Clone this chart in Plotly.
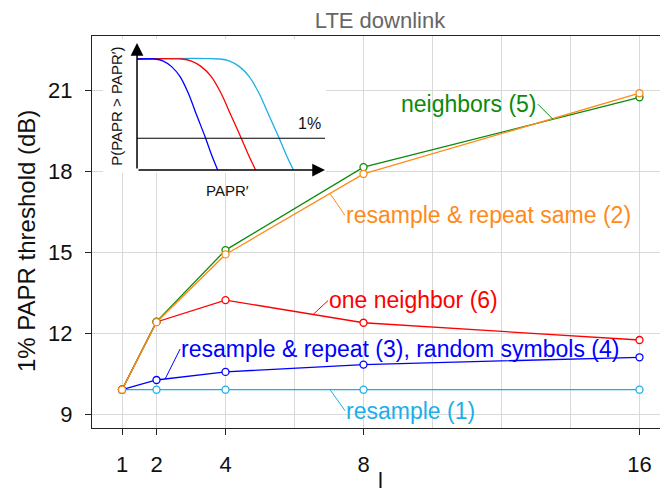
import numpy as np
import plotly.graph_objects as go

# ---------------- data ----------------
l_vals = [1, 2, 4, 8, 16]
resample_1 = [9.9, 9.9, 9.9, 9.9, 9.9]
resample_repeat_same_2 = [9.9, 12.4, 14.91, 17.89, 20.88]
resample_repeat_3_random_4 = [9.9, 10.26, 10.56, 10.83, 11.1]
neighbors_5 = [9.9, 12.42, 15.07, 18.14, 20.73]
one_neighbor_6 = [9.9, 12.41, 13.22, 12.38, 11.74]

x_ticks = [1, 2, 4, 8, 16]
y_ticks = [9, 12, 15, 18, 21]

# inset sketch: CCDF curves P(PAPR > PAPR') (normalized units)
inset_x_blue = [0.0, 0.096, 0.140, 0.184, 0.229, 0.273, 0.317, 0.362, 0.397, 0.429]
inset_x_red = [0.0, 0.238, 0.290, 0.342, 0.395, 0.447, 0.499, 0.551, 0.593, 0.631]
inset_x_cyan = [0.0, 0.441, 0.493, 0.545, 0.597, 0.649, 0.701, 0.753, 0.794, 0.832]
inset_y_curve = [0.874, 0.874, 0.858, 0.814, 0.735, 0.604, 0.433, 0.262, 0.118, 0.0]
inset_x_level = [0.0, 1.0]
inset_y_level = [0.25, 0.25]

C_CYAN = "#1AAFEA"
C_BLUE = "#0000FF"
C_RED = "#FF0000"
C_ORANGE = "#FF8A1A"
C_GREEN = "#0A8A0A"
FONT = "Liberation Sans"

# the page body adds an 8px offset; figure is sized to fill the rest of the window
W, H = 660, 485

fig = go.Figure()

# inset white background (covers main grid)
X2R = [-0.1809, 1.0053]
Y2R = [-0.0236, 1.0315]
fig.add_trace(go.Scatter(x=[X2R[0], X2R[1], X2R[1], X2R[0], X2R[0]],
                         y=[Y2R[0], Y2R[0], Y2R[1], Y2R[1], Y2R[0]],
                         fill="toself", fillcolor="white", mode="lines",
                         line=dict(width=0, color="white"), hoverinfo="skip",
                         showlegend=False, xaxis="x2", yaxis="y2"))

series = [
    (resample_1, C_CYAN),
    (resample_repeat_3_random_4, C_BLUE),
    (one_neighbor_6, C_RED),
    (neighbors_5, C_GREEN),
    (resample_repeat_same_2, C_ORANGE),
]
for ys, c in series:
    fig.add_trace(go.Scatter(x=l_vals, y=ys, mode="lines+markers",
                             line=dict(color=c, width=1.3),
                             marker=dict(symbol="circle", size=7, color="white",
                                         line=dict(color=c, width=1.3)),
                             showlegend=False, cliponaxis=False))

# inset curves
for xs, c in [(inset_x_cyan, C_CYAN), (inset_x_red, C_RED), (inset_x_blue, C_BLUE)]:
    fig.add_trace(go.Scatter(x=xs, y=inset_y_curve, mode="lines",
                             line=dict(color=c, width=1.3, shape="spline", smoothing=0.9),
                             showlegend=False, hoverinfo="skip", xaxis="x2", yaxis="y2"))
fig.add_trace(go.Scatter(x=inset_x_level, y=inset_y_level, mode="lines",
                         line=dict(color="black", width=1.2),
                         showlegend=False, hoverinfo="skip", xaxis="x2", yaxis="y2"))

annotations = []
# curve labels with leader lines
labels = [
    ("neighbors (5)", neighbors_5, C_GREEN, 13.49, -15, -15, "right"),
    ("resample & repeat same (2)", resample_repeat_same_2, C_ORANGE, 7.03, 15, 22, "left"),
    ("one neighbor (6)", one_neighbor_6, C_RED, 6.54, 15, -14, "left"),
    ("resample & repeat (3), random symbols (4)", resample_repeat_3_random_4, C_BLUE, 2.25, 15, -30, "left"),
    ("resample (1)", resample_1, C_CYAN, 7.03, 15, 21, "left"),
]
for text, ys, c, xa, ax, ay, anch in labels:
    ya = float(np.interp(xa, l_vals, ys))
    annotations.append(dict(x=xa, y=ya, xref="x", yref="y", text=text,
                            showarrow=True, arrowhead=0, arrowwidth=1, arrowcolor=c,
                            ax=ax, ay=ay, xanchor=anch, yanchor="middle",
                            borderpad=0, font=dict(family=FONT, size=23, color=c)))

# inset arrows (axes)
for (x, y) in [(1.0, 0.0), (0.0, 1.0)]:
    annotations.append(dict(x=x, y=y, xref="x2", yref="y2", ax=0, ay=0,
                            axref="x2", ayref="y2", text="", showarrow=True,
                            arrowhead=2, arrowsize=1.7, arrowwidth=1.5,
                            arrowcolor="black"))
annotations.append(dict(x=0.915, y=0.37, xref="x2", yref="y2", text="1%",
                        xanchor="center", yanchor="middle",
                        showarrow=False, font=dict(family=FONT, size=16, color="#111")))
annotations.append(dict(x=-0.106, y=0.498, xref="x2", yref="y2", text="P(PAPR > PAPR′)",
                        textangle=-90, showarrow=False, xanchor="center", yanchor="middle",
                        font=dict(family=FONT, size=15, color="#111")))
annotations.append(dict(x=0.2344, y=0.607, xref="paper", yref="paper", text="PAPR′",
                        xanchor="center", yanchor="middle",
                        showarrow=False, font=dict(family=FONT, size=15, color="#111")))

# axis titles
annotations.append(dict(x=-0.1146, y=0.477, xref="paper", yref="paper",
                        text="1% PAPR threshold (dB)", textangle=-90, showarrow=False,
                        xanchor="center", yanchor="middle",
                        font=dict(family=FONT, size=24, color="#111")))
annotations.append(dict(x=0.5, y=-0.133, xref="paper", yref="paper", text="l",
                        showarrow=False, xanchor="center", yanchor="middle",
                        font=dict(family=FONT, size=22, color="#111")))

axis_common = dict(showline=True, linecolor="#222", linewidth=1.3,
                   ticks="outside", ticklen=6, tickwidth=1.3, tickcolor="#222",
                   showgrid=True, gridcolor="#d9d9d9", gridwidth=1, zeroline=False,
                   tickfont=dict(family=FONT, size=22, color="#111"))

fig.update_layout(
    width=W, height=H,
    margin=dict(l=84, r=0, t=28, b=65),
    paper_bgcolor="white", plot_bgcolor="white",
    font=dict(family=FONT),
    title=dict(text="LTE downlink", x=0.5, xref="paper", y=1 - 12 / H,
               yref="container", xanchor="center", yanchor="middle",
               font=dict(family=FONT, size=22, color="#666666")),
    xaxis=dict(range=[0.1304, 16.826], tickmode="array", tickvals=x_ticks,
               mirror=True, ticklabelstandoff=10,
               minor=dict(dtick=2, tick0=0, showgrid=True, gridcolor="#d9d9d9",
                          gridwidth=1, ticks=""),
               **axis_common),
    yaxis=dict(range=[8.4815, 23.0], tickmode="array", tickvals=y_ticks,
               ticklabelstandoff=8, **axis_common),
    xaxis2=dict(domain=[0.0191, 0.40625], range=X2R, visible=False, anchor="y2"),
    yaxis2=dict(domain=[0.6505, 0.9923], range=Y2R, visible=False, anchor="x2"),
    annotations=annotations,
    showlegend=False,
)

fig.write_html("out.html")
